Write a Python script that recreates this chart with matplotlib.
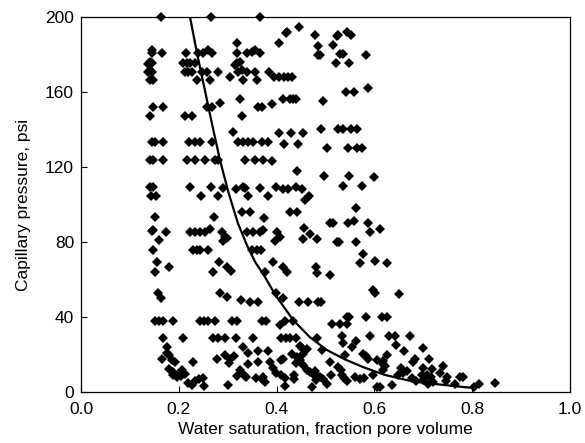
import matplotlib
matplotlib.use("Agg")
import matplotlib.pyplot as plt

plt.rcParams['font.family'] = ['Liberation Sans', 'DejaVu Sans']

# Measured samples: water saturation (fraction) and capillary pressure (psi)
sw = [
    0.164, 0.266, 0.366, 0.319, 0.145, 0.145, 0.166, 0.215,
    0.239, 0.249, 0.260, 0.268, 0.319, 0.339, 0.350, 0.356, 0.366,
    0.141, 0.137, 0.145, 0.209, 0.217, 0.223, 0.233, 0.319, 0.325, 0.315,
    0.137, 0.145, 0.141, 0.213, 0.219, 0.227, 0.247, 0.258, 0.280,
    0.321, 0.329, 0.339, 0.356, 0.305, 0.141, 0.147, 0.237, 0.264,
    0.331, 0.360, 0.325, 0.147, 0.168, 0.141, 0.213, 0.227,
    0.258, 0.268, 0.284, 0.362, 0.370, 0.329, 0.311,
    # upper middle
    0.421, 0.419, 0.446, 0.405, 0.479, 0.526, 0.524, 0.544, 0.552,
    0.485, 0.515, 0.485, 0.489, 0.530, 0.536, 0.583, 0.521, 0.548,
    0.384, 0.395, 0.405, 0.415, 0.423, 0.431, 0.542, 0.558, 0.587,
    0.391, 0.413, 0.427, 0.434, 0.440, 0.495, 0.405, 0.429, 0.454,
    0.491, 0.526, 0.536, 0.552, 0.564,
    # middle left
    0.145, 0.151, 0.168, 0.221, 0.233, 0.243, 0.268,
    0.321, 0.331, 0.342, 0.352, 0.370,
    0.141, 0.147, 0.168, 0.217, 0.233, 0.254, 0.274, 0.280,
    0.335, 0.356, 0.372, 0.141, 0.147, 0.143, 0.153, 0.223, 0.245,
    0.266, 0.280, 0.290, 0.317, 0.331, 0.335, 0.342, 0.366,
    0.151, 0.272, 0.329, 0.346, 0.374, 0.147, 0.145, 0.174,
    0.223, 0.233, 0.243, 0.254, 0.264, 0.288, 0.294, 0.299, 0.290,
    0.339, 0.352, 0.366, 0.372, 0.160, 0.147,
    0.229, 0.237, 0.243, 0.260, 0.350, 0.360, 0.368, 0.155, 0.282,
    # middle right
    0.382, 0.415, 0.444, 0.503, 0.546, 0.564, 0.575, 0.391,
    0.442, 0.497, 0.548, 0.599,
    0.399, 0.413, 0.423, 0.440, 0.452, 0.382, 0.466, 0.458,
    0.536, 0.575, 0.562, 0.427, 0.442, 0.509, 0.515, 0.546, 0.558,
    0.587, 0.456, 0.591, 0.611, 0.401, 0.407, 0.397,
    0.468, 0.454, 0.483, 0.524, 0.528, 0.562, 0.577, 0.601,
    0.393, 0.571, 0.626,
    # lower left
    0.151, 0.180, 0.270, 0.299, 0.307, 0.157, 0.164, 0.284, 0.299,
    0.327, 0.346, 0.362,
    0.151, 0.160, 0.168, 0.188, 0.243, 0.252, 0.260, 0.274,
    0.309, 0.319, 0.370, 0.168, 0.209,
    0.270, 0.280, 0.294, 0.317, 0.352, 0.176, 0.176, 0.180,
    0.166, 0.186, 0.192, 0.229, 0.331, 0.342, 0.362,
    0.278, 0.294, 0.305, 0.313, 0.303, 0.342, 0.362,
    0.180, 0.188, 0.196, 0.207, 0.213, 0.188, 0.196, 0.204,
    0.219, 0.227, 0.233, 0.241, 0.249, 0.252, 0.301,
    0.319, 0.325, 0.333, 0.337, 0.358, 0.370,
    # lower middle
    0.413, 0.421, 0.481, 0.483, 0.509, 0.376, 0.399, 0.413,
    0.446, 0.464, 0.485, 0.491, 0.597, 0.601,
    0.378, 0.407, 0.417, 0.434, 0.513, 0.530, 0.544, 0.544, 0.548,
    0.583, 0.616, 0.409, 0.419, 0.427, 0.440, 0.483,
    0.534, 0.536, 0.562, 0.591, 0.448, 0.452, 0.462, 0.454,
    0.382, 0.493, 0.554, 0.540, 0.387, 0.409, 0.413,
    0.431, 0.442, 0.448, 0.440, 0.509, 0.526, 0.532,
    0.577, 0.583, 0.587, 0.605, 0.618,
    0.393, 0.399, 0.409, 0.417, 0.372, 0.376, 0.436, 0.436,
    0.454, 0.462, 0.468, 0.474, 0.479, 0.483, 0.489, 0.495, 0.481, 0.503, 0.511,
    0.472, 0.534, 0.538, 0.544, 0.560, 0.571, 0.579, 0.597, 0.605, 0.417,
    # lower right
    0.650, 0.626, 0.630, 0.642, 0.673, 0.644, 0.661, 0.699, 0.626,
    0.683, 0.679, 0.712, 0.618, 0.622, 0.618,
    0.654, 0.667, 0.658, 0.648, 0.699, 0.718, 0.708, 0.716,
    0.740, 0.734, 0.748, 0.746, 0.677, 0.685, 0.775, 0.781, 0.765,
    0.697, 0.699, 0.720, 0.710, 0.636, 0.611, 0.804, 0.814, 0.847,
]
pc = [
    200.0, 200.0, 200.0, 186.1, 182.4, 180.8, 180.8, 180.8,
    180.8, 180.8, 182.4, 180.8, 180.8, 180.8, 181.3, 182.4, 180.8,
    176.0, 174.9, 175.5, 175.5, 175.5, 175.5, 175.5, 175.5, 176.0, 174.4,
    170.7, 170.7, 171.7, 170.7, 170.7, 170.7, 170.7, 170.7, 170.7,
    170.7, 171.7, 170.7, 170.7, 168.0, 166.4, 166.4, 166.4, 166.4,
    166.4, 166.4, 156.3, 152.0, 152.0, 147.2, 147.2, 147.2,
    152.0, 152.0, 154.1, 152.0, 152.0, 147.2, 138.7,
    # upper middle
    192.0, 191.5, 194.7, 186.1, 190.4, 190.4, 189.9, 192.0, 190.4,
    184.5, 185.1, 179.7, 179.7, 180.3, 180.3, 179.7, 175.5, 175.5,
    170.7, 168.0, 168.0, 168.0, 168.0, 168.0, 160.0, 160.0, 162.1,
    153.6, 156.3, 156.3, 156.3, 156.3, 155.2, 138.1, 138.1, 138.1,
    140.3, 140.3, 140.3, 140.3, 140.3,
    # middle left
    133.3, 133.3, 133.3, 133.3, 133.3, 133.3, 133.3,
    133.3, 133.3, 133.3, 133.3, 133.3,
    123.7, 123.7, 123.7, 123.7, 123.7, 123.7, 123.7, 123.7,
    123.7, 123.7, 123.7, 109.3, 109.3, 104.5, 104.5, 109.3, 104.5,
    109.3, 104.5, 108.8, 108.3, 109.3, 108.8, 104.5, 108.8,
    93.3, 93.3, 96.0, 96.0, 93.0, 86.4, 85.9, 85.3,
    85.3, 85.3, 85.3, 85.3, 86.9, 85.3, 82.7, 82.1, 80.5,
    85.3, 85.3, 85.3, 86.4, 81.1, 75.7,
    75.7, 75.7, 75.7, 75.7, 75.7, 75.7, 75.7, 69.3, 69.3,
    # middle right
    133.3, 132.3, 132.3, 130.1, 130.1, 130.1, 130.1, 123.2,
    117.9, 115.2, 115.2, 114.7,
    109.3, 108.3, 108.3, 109.3, 108.3, 104.5, 104.5, 102.4,
    109.9, 109.9, 98.1, 96.0, 96.0, 90.1, 90.1, 90.1, 91.2,
    90.1, 87.5, 85.3, 86.9, 85.3, 82.7, 80.5,
    84.3, 81.6, 81.6, 80.0, 80.0, 80.0, 73.6, 69.9,
    69.3, 68.8, 68.8,
    # lower left
    64.0, 66.7, 64.0, 66.7, 64.5, 52.8, 50.1, 52.8, 50.7,
    49.1, 48.0, 48.0,
    37.9, 37.9, 37.9, 37.9, 37.9, 37.9, 37.9, 37.9,
    37.9, 37.9, 37.9, 28.8, 28.8,
    28.8, 28.8, 28.8, 28.8, 28.8, 24.0, 20.8, 19.7,
    17.6, 17.1, 16.0, 16.0, 24.0, 20.8, 21.9,
    17.6, 19.7, 17.6, 19.2, 15.5, 14.9, 16.0,
    12.3, 10.7, 9.1, 11.7, 9.6, 9.1, 8.0, 8.5,
    4.8, 3.7, 5.9, 6.9, 7.5, 3.2, 3.7,
    8.5, 11.7, 9.1, 8.0, 7.5, 6.9,
    # lower middle
    66.7, 64.0, 66.7, 63.5, 62.4, 64.0, 52.8, 50.1,
    48.0, 48.0, 48.0, 48.0, 54.4, 52.8,
    37.9, 35.7, 37.9, 37.9, 36.3, 36.3, 36.3, 40.0, 40.0,
    40.0, 40.0, 28.8, 28.8, 28.8, 28.8, 28.8,
    29.9, 26.1, 27.2, 29.9, 24.5, 23.5, 22.9, 20.3,
    21.9, 22.4, 24.0, 19.7, 16.0, 17.1, 17.6,
    20.3, 18.7, 17.1, 15.5, 16.0, 13.3, 11.7,
    20.3, 19.2, 17.6, 17.1, 14.9,
    12.8, 10.1, 9.1, 7.5, 8.0, 5.3, 9.1, 6.9,
    14.4, 11.7, 10.7, 9.6, 11.2, 8.5, 8.0, 6.9, 6.4, 4.3, 9.1,
    2.7, 9.1, 7.5, 5.9, 8.0, 6.9, 7.5, 9.1, 2.7, 3.2,
    # lower right
    52.3, 40.0, 29.9, 29.9, 29.9, 25.1, 21.9, 23.5, 19.7,
    17.6, 16.0, 17.6, 16.5, 13.9, 11.7,
    12.8, 11.2, 10.1, 9.1, 12.8, 12.3, 9.1, 8.0,
    13.9, 10.1, 8.0, 5.9, 7.5, 5.9, 8.0, 8.0, 4.3,
    9.1, 6.4, 5.3, 4.3, 3.7, 2.7, 2.7, 4.3, 4.8,
]

# Fitted capillary pressure curve
curve_sw = [0.223, 0.237, 0.249, 0.268, 0.284, 0.301, 0.321, 0.340, 0.356,
            0.376, 0.397, 0.434, 0.468, 0.503, 0.540, 0.577, 0.622, 0.679,
            0.748, 0.804]
curve_pc = [200.0, 181.0, 166.4, 143.0, 124.0, 107.0, 90.0, 78.0, 69.5,
            61.5, 52.0, 38.4, 29.3, 22.4, 17.4, 13.3, 9.1, 5.6, 3.6, 2.1]

x_ticks = [0.0, 0.2, 0.4, 0.6, 0.8, 1.0]
y_ticks = [0, 40, 80, 120, 160, 200]

fig = plt.figure(figsize=(5.85, 4.43), dpi=100)
ax = fig.add_axes([0.1385, 0.1151, 0.8355, 0.8465])

ax.plot(sw, pc, linestyle='none', marker='D', markersize=4.6,
        color='black', markeredgewidth=0, clip_on=False, zorder=3)
ax.plot(curve_sw, curve_pc, color='black', linewidth=1.6, zorder=4)

ax.set_xlim(0.0, 1.0)
ax.set_ylim(0, 200)
ax.set_xticks(x_ticks)
ax.set_xticklabels([f"{v:.1f}" for v in x_ticks])
ax.set_yticks(y_ticks)
ax.set_yticklabels([str(v) for v in y_ticks])
ax.tick_params(direction='in', length=4, width=0.8, labelsize=12.5,
               colors='black')
ax.tick_params(axis='x', pad=7)
ax.tick_params(axis='y', pad=5)
for s in ax.spines.values():
    s.set_linewidth(0.9)
    s.set_color('black')

ax.set_xlabel("Water saturation, fraction pore volume", fontsize=12.5, labelpad=4)
ax.set_ylabel("Capillary pressure, psi", fontsize=12.5, labelpad=10)

fig.savefig("out.png", dpi=100)
